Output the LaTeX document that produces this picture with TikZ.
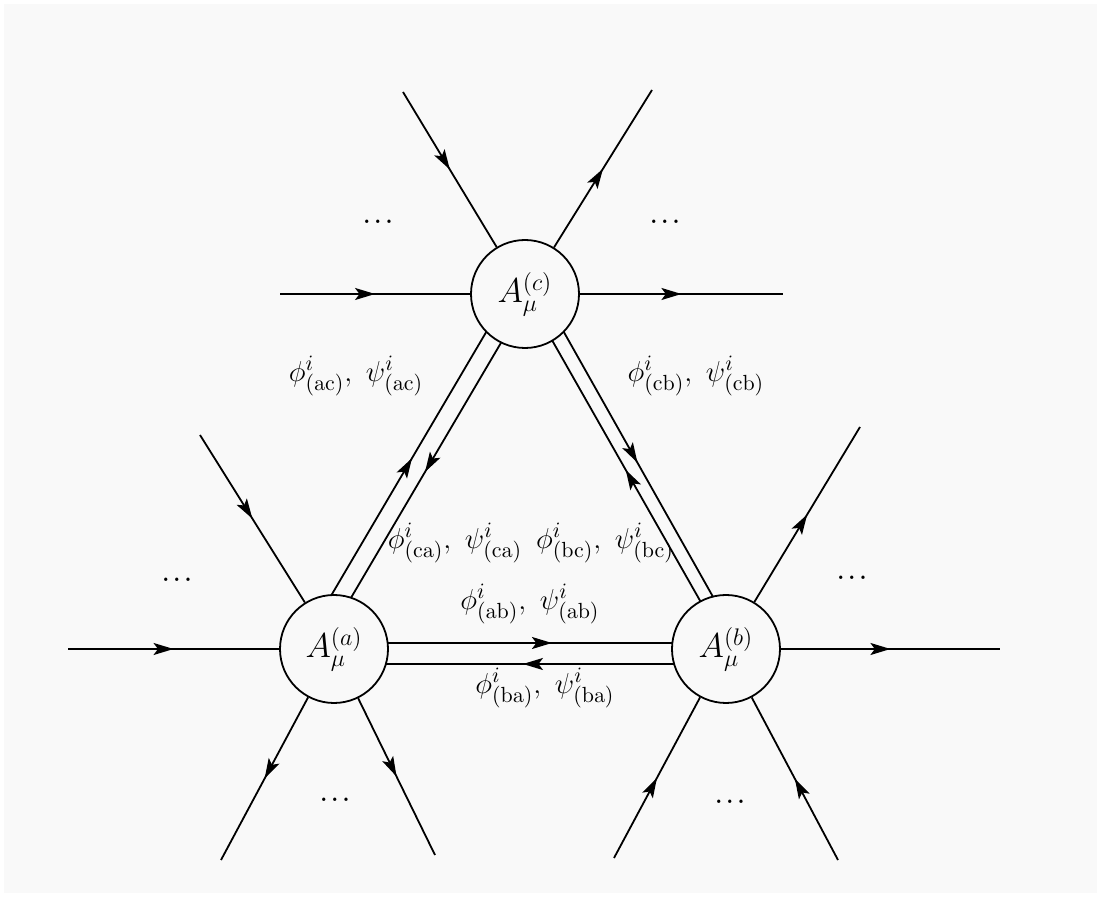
\documentclass[tikz,border=0pt]{standalone}
\usetikzlibrary{arrows.meta,decorations.markings,calc}
\definecolor{paper}{RGB}{249,249,249}
\begin{document}
\begin{tikzpicture}[x=0.5pt,y=-0.5pt,
  every node/.style={font=\fontsize{15}{17}\selectfont},
  fl/.style={line width=0.9pt, postaction={decorate},
    decoration={markings, mark=at position #1 with {\arrow{Stealth[length=10pt,width=6pt,inset=2.2pt]}}}},
  fl/.default=0.5,
  vert/.style={circle, draw, line width=0.9pt, fill=paper, minimum size=54pt, inner sep=0pt, font=\fontsize{17}{19}\selectfont},
  lbl/.style={inner sep=0pt},
  dts/.style={font=\fontsize{11}{13}\selectfont\boldmath}]
\useasboundingbox (0,0) rectangle (1099,897);
\fill[white] (0,0) rectangle (1099,897);
\fill[paper] (4,4) rectangle (1097,893);
% centres
\coordinate (ac) at (334,649);
\coordinate (bc) at (726,649);
\coordinate (cc) at (525,294);
% double lines A-B
\draw[fl=0.556] ($(ac)+(0,-6)$) -- ($(bc)+(0,-6)$);
\draw[fl=0.518] ($(bc)+(0,15)$) -- ($(ac)+(0,15)$);
% double lines A-C
\draw[fl=0.53] ($(ac)+(-19,-26)$) -- ($(cc)+(-27,18)$);
\draw[fl=0.5] ($(cc)+(-10,25)$) -- ($(ac)+(1,-24)$);
% double lines C-B
\draw[fl=0.48] ($(cc)+(27,17)$) -- ($(bc)+(4,-22)$);
\draw[fl=0.51] ($(bc)+(-11,-22)$) -- ($(cc)+(15,25)$);
% vertices
\node[vert] (a) at (ac) {$A^{(a)}_{\mu}$};
\node[vert] (b) at (bc) {$A^{(b)}_{\mu}$};
\node[vert] (c) at (cc) {$A^{(c)}_{\mu}$};
% external legs C
\coordinate (cUL) at (403,92);
\coordinate (cUR) at (652,90);
\coordinate (cL) at (280,294);
\coordinate (cR) at (783,294);
\draw[fl] (cUL) -- (c);
\draw[fl] (c) -- (cUR);
\draw[fl] (cL) -- (c);
\draw[fl] (c) -- (cR);
% external legs A
\coordinate (aUL) at (200,435);
\coordinate (aL) at (68,649);
\coordinate (aLL) at (221,860);
\coordinate (aLR) at (435,855);
\draw[fl] (aUL) -- (a);
\draw[fl] (aL) -- (a);
\draw[fl] (a) -- (aLL);
\draw[fl] (a) -- (aLR);
% external legs B
\coordinate (bUR) at (860,427);
\coordinate (bR) at (1000,649);
\coordinate (bLL) at (614,858);
\coordinate (bLR) at (838,860);
\draw[fl] (b) -- (bUR);
\draw[fl] (b) -- (bR);
\draw[fl] (bLL) -- (b);
\draw[fl] (bLR) -- (b);
% dots
\node[dts] (d1) at (378,222) {$\dots$};
\node[dts] (d2) at (665,222) {$\dots$};
\node[dts] (d3) at (177,580) {$\dots$};
\node[dts] (d4) at (335,800) {$\dots$};
\node[dts] (d5) at (852,578) {$\dots$};
\node[dts] (d6) at (730,802) {$\dots$};
% labels
\node[lbl] (lac) at (356,376) {$\phi^i_{(\mathrm{ac})},\ \psi^i_{(\mathrm{ac})}$};
\node[lbl] (lcb) at (696,376) {$\phi^i_{(\mathrm{cb})},\ \psi^i_{(\mathrm{cb})}$};
\node[lbl] (lca) at (455,543) {$\phi^i_{(\mathrm{ca})},\ \psi^i_{(\mathrm{ca})}$};
\node[lbl] (lbc) at (605,543) {$\phi^i_{(\mathrm{bc})},\ \psi^i_{(\mathrm{bc})}$};
\node[lbl] (lab) at (530,604) {$\phi^i_{(\mathrm{ab})},\ \psi^i_{(\mathrm{ab})}$};
\node[lbl] (lba) at (545,688) {$\phi^i_{(\mathrm{ba})},\ \psi^i_{(\mathrm{ba})}$};
\end{tikzpicture}
\end{document}
